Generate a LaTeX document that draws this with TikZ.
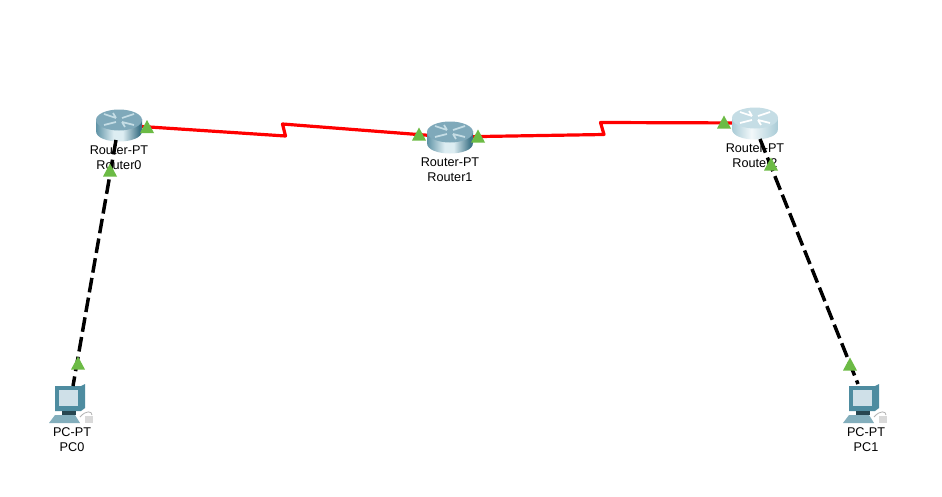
\documentclass[tikz,border=0pt]{standalone}
\usepackage{fontspec}
\setmainfont{Liberation Sans}
\usetikzlibrary{calc}
\definecolor{rtop}{HTML}{7FA9BA}
\definecolor{rtopb}{HTML}{C5DDE5}
\definecolor{pcframe}{HTML}{4E8CA0}
\definecolor{pcscreen}{HTML}{CFE0E8}
\definecolor{linkgreen}{HTML}{6CBB45}
\definecolor{serialred}{HTML}{FF0000}
\definecolor{bodyedge}{HTML}{5F93A6}
\definecolor{bodydark}{HTML}{3F7488}
\definecolor{bodyglow}{HTML}{DDEDF2}
\definecolor{bodybedge}{HTML}{A9CBD6}
\definecolor{bodybglow}{HTML}{F2F8FA}
\pgfdeclarehorizontalshading{bodya}{100bp}{
  color(0bp)=(bodyedge);
  color(25bp)=(bodyedge);
  color(44bp)=(bodyglow);
  color(54bp)=(bodyglow);
  color(72bp)=(bodydark);
  color(100bp)=(bodydark)}
\pgfdeclarehorizontalshading{bodyb}{100bp}{
  color(0bp)=(bodybedge);
  color(25bp)=(bodybedge);
  color(46bp)=(bodybglow);
  color(75bp)=(bodybedge);
  color(100bp)=(bodybedge)}
\tikzset{
  x=0.75pt,y=-0.75pt,
  hub/.style={inner sep=0pt,outer sep=0pt,minimum size=1pt},
  devlabel/.style={font=\fontsize{9.5}{11.2}\selectfont,align=center,text=black,inner sep=0pt},
  serial/.style={draw=serialred,line width=2.4pt,line join=round},
  copper/.style={draw=black,line width=2.6pt,dash pattern=on 11pt off 4pt},
  lamp/.style={fill=linkgreen,draw=none},
  pics/routerpic/.style n args={3}{code={
    \shade[shading=#1]
      (-23,-6) -- (-23,6) .. controls (-23,20) and (23,20) .. (23,6) -- (23,-6) -- cycle;
    \fill[#2] (0,-5) ellipse [x radius=23,y radius=10.5];
    \draw[#3,line width=1.3pt]
      (-3,-7) -- (-15,-11) (3,-7) -- (15,-11)
      (-3,-3) -- (-15,0) (3,-3) -- (15,0)
      (-3,-7) -- (-6,-12) (3,-3) -- (6,2);
  }},
  pics/pcpic/.style={code={
    \fill[pcframe!70!white] (-21,19) -- (10,19) -- (5,11) -- (-15,11) -- cycle;
    \fill[pcframe] (-15,-18) -- (11,-18) -- (15,-20) -- (15,4) -- (11,7) -- (-15,7) -- cycle;
    \fill[pcscreen] (-11,-14) -- (8,-14) -- (8,2) -- (-11,2) -- cycle;
    \fill[pcframe!50!black] (-8,7) rectangle (6,11);
    \draw[gray!60,line width=.6pt] (10,13) .. controls (16,6) and (22,7) .. (22,11);
    \fill[gray!30] (15,12) rectangle (23,19);
  }}
}
\begin{document}
\begin{tikzpicture}
\useasboundingbox (0,0) rectangle (942,496);
\fill[white] (0,0) rectangle (942,496);
% anchors
\node[hub] (r0) at (119,125) {};
\node[hub] (r1) at (450,137) {};
\node[hub] (r2) at (755,123) {};
\node[hub] (p0) at (70,404) {};
\node[hub] (p1) at (864,404) {};
\coordinate (k1a) at (285.5,136);
\coordinate (k1b) at (282.5,124);
\coordinate (k2a) at (604,134.5);
\coordinate (k2b) at (600.5,122.5);
% serial links
\draw[serial] (r0) -- (k1a) -- (k1b) -- (r1);
\draw[serial] (r1) -- (k2a) -- (k2b) -- (r2);
% routers
\pic at (r0) {routerpic={bodya}{rtop}{rtopb}};
\pic at (r1) {routerpic={bodya}{rtop}{rtopb}};
\pic at (r2) {routerpic={bodyb}{rtopb}{white}};
% PCs
\pic at (p0) {pcpic};
\pic at (p1) {pcpic};
% labels
\node[devlabel] (lr0) at (119,157.5) {Router-PT\\Router0};
\node[devlabel] (lr1) at (450,169.5) {Router-PT\\Router1};
\node[devlabel] (lr2) at (755,155.5) {Router-PT\\Router2};
\node[devlabel] (lp0) at (72,440) {PC-PT\\PC0};
\node[devlabel] (lp1) at (866,440) {PC-PT\\PC1};
% copper links
\draw[copper] ($(r0)+(-3,15)$) -- ($(p0)+(3,-18)$);
\draw[copper] ($(r2)+(5,16)$) -- ($(p1)+(-6,-20)$);
% link lights
\foreach \x/\y in {147/126.5,419/134,478/136,724/122,110/170,771/164,78/363,850/364}{
  \fill[lamp] (\x-7,\y+6.5) -- (\x+7,\y+6.5) -- (\x,\y-6.5) -- cycle;
}
\end{tikzpicture}
\end{document}
